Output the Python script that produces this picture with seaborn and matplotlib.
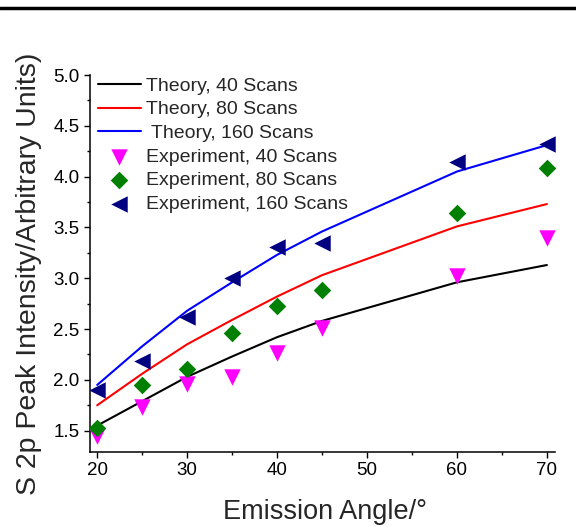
import matplotlib
matplotlib.use("Agg")
import matplotlib.pyplot as plt
from matplotlib.lines import Line2D
from matplotlib.ticker import MultipleLocator, FormatStrFormatter
import seaborn as sns

angles = [20, 25, 30, 35, 40, 45, 60, 70]
theory_40 = [1.55, 1.79, 2.03, 2.23, 2.42, 2.58, 2.96, 3.13]
theory_80 = [1.75, 2.06, 2.35, 2.59, 2.82, 3.03, 3.51, 3.73]
theory_160 = [1.95, 2.33, 2.68, 2.96, 3.23, 3.46, 4.05, 4.31]
exp_40 = [1.45, 1.73, 1.96, 2.03, 2.26, 2.51, 3.02, 3.40]
exp_80 = [1.53, 1.95, 2.11, 2.46, 2.73, 2.88, 3.64, 4.08]
exp_160 = [1.90, 2.19, 2.62, 3.00, 3.31, 3.35, 4.14, 4.32]

sns.set_style("ticks")
plt.rcParams['font.family'] = ['Liberation Sans', 'DejaVu Sans']

fig = plt.figure(figsize=(5.76, 5.27), dpi=100)
ax = fig.add_axes([90/576, 1-452/527, (555-90)/576, (452-75)/527])

sns.lineplot(x=angles, y=theory_40, color='black', lw=1.5, ax=ax, label='Theory, 40 Scans')
sns.lineplot(x=angles, y=theory_80, color='#FF0000', lw=1.5, ax=ax, label='Theory, 80 Scans')
sns.lineplot(x=angles, y=theory_160, color='#0000FF', lw=1.5, ax=ax, label=' Theory, 160 Scans')
sns.scatterplot(x=angles, y=exp_40, color='#FF00FF', marker='v', s=140, linewidth=0, ax=ax,
                label='Experiment, 40 Scans', zorder=3)
sns.scatterplot(x=angles, y=exp_80, color='#008000', marker='D', s=80, linewidth=0, ax=ax,
                label='Experiment, 80 Scans', zorder=3)
sns.scatterplot(x=angles, y=exp_160, color='#000080', marker='<', s=140, linewidth=0, ax=ax,
                label='Experiment, 160 Scans', zorder=3)

ax.set_xlim(19.2, 70.9)
ax.set_ylim(1.29, 5.0)
ax.xaxis.set_major_locator(MultipleLocator(10))
ax.xaxis.set_minor_locator(MultipleLocator(5))
ax.yaxis.set_major_locator(MultipleLocator(0.5))
ax.yaxis.set_minor_locator(MultipleLocator(0.25))
ax.yaxis.set_major_formatter(FormatStrFormatter('%.1f'))

for s in ['top', 'right']:
    ax.spines[s].set_visible(False)
for s in ['left', 'bottom']:
    ax.spines[s].set_linewidth(1.1)
    ax.spines[s].set_color('black')
ax.tick_params(which='major', direction='out', length=4.5, width=1.0, labelsize=13.5, colors='black', pad=3)
ax.tick_params(which='minor', direction='out', length=2.5, width=1.0, colors='black')

ax.set_xlabel('Emission Angle/°', fontsize=19.5)
ax.set_ylabel('S 2p Peak Intensity/Arbitrary Units)', fontsize=20.5)
ax.xaxis.set_label_coords(0.505, -0.125)
ax.yaxis.set_label_coords(-0.104, 0.472)

leg = ax.legend(loc='upper left', bbox_to_anchor=(0.0, 1.015), frameon=False, fontsize=14,
                handlelength=2.2, handletextpad=0.3, labelspacing=0.31, borderaxespad=0.2,
                borderpad=0.2)

fig.add_artist(Line2D([0, 1], [1-8/527, 1-8/527], color='black', lw=2.5, transform=fig.transFigure))

fig.savefig('out.png', dpi=100)
